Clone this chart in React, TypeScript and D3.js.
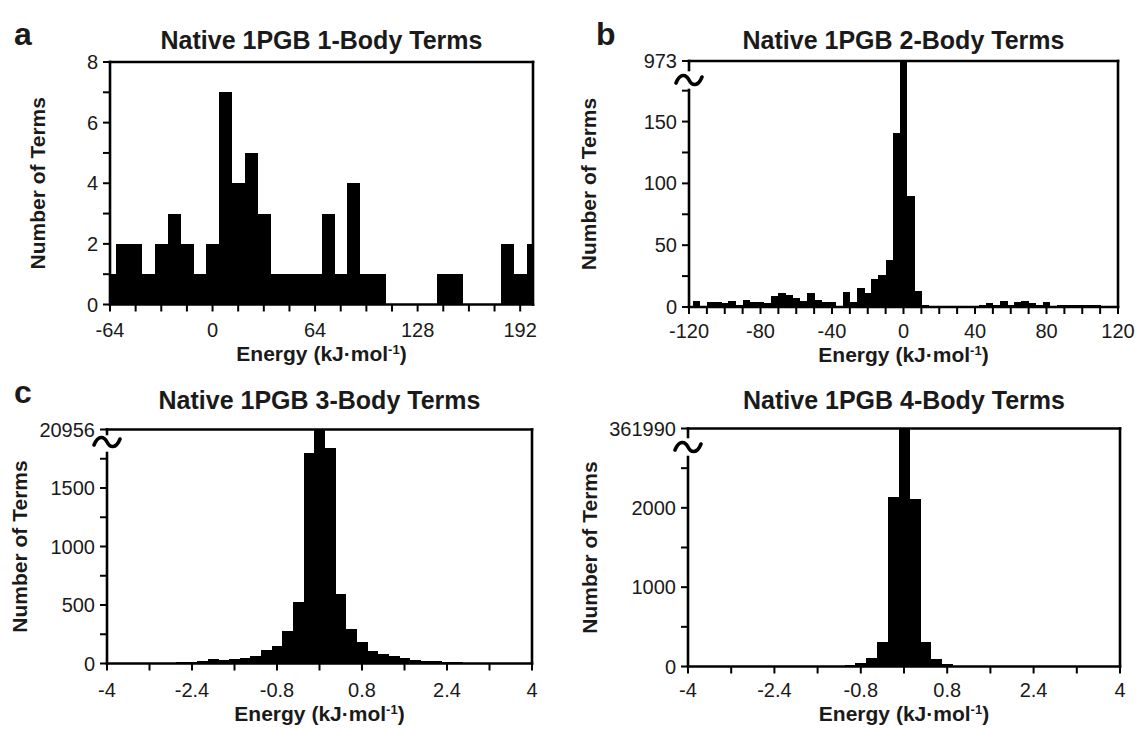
import React from 'react';
import * as d3 from 'd3';

// ---------- Panel a : 1-body terms ----------
const aBinStart = -64;
const aBinStep = 8;
const aCounts = [1, 2, 2, 1, 2, 3, 2, 1, 2, 7, 4, 5, 3, 1, 1, 1, 1, 3, 1, 4, 1, 1, 0, 0, 0, 0, 1, 1, 0, 0, 0, 2, 1, 2];
const aXLabels = [-64, 0, 64, 128, 192];
const aYLabels = [0, 2, 4, 6, 8];

// ---------- Panel b : 2-body terms ----------
const bBinStart = -120;
const bBinStep = 4;
const bCounts = [
  0, 5, 0, 4, 4, 3, 5, 2, 6, 4, 4, 3, 9, 11, 10, 7, 5, 11, 6, 4, 4, 1, 12, 4, 15, 11, 23, 26, 38, 141,
  973,
  90, 13, 2, 1, 1, 1, 0, 0, 1, 1, 2, 3, 2, 5, 2, 4, 5, 3, 2, 4, 1, 2, 2, 2, 2, 2, 2, 0, 0, 0,
];
const bXLabels = [-120, -80, -40, 0, 40, 80, 120];
const bYLabels = [0, 50, 100, 150];
const bTopLabel = '973';

// ---------- Panel c : 3-body terms ----------
const cBinStart = -4;
const cBinStep = 0.2;
const cCounts = [
  0, 0, 1, 1, 2, 3, 5, 11, 14, 20, 37, 28, 40, 43, 63, 114, 148, 279, 527, 1803,
  20956,
  1843, 590, 291, 182, 105, 85, 63, 43, 28, 23, 20, 14, 9, 6, 4, 3, 2, 2, 1, 0,
];
const cXLabels = [-4, -2.4, -0.8, 0.8, 2.4, 4];
const cYLabels = [0, 500, 1000, 1500];
const cTopLabel = '20956';

// ---------- Panel d : 4-body terms ----------
const dBinStart = -4;
const dBinStep = 0.2;
const dCounts = [
  0, 0, 0, 0, 0, 0, 0, 0, 0, 0, 0, 0, 0, 0, 3, 17, 50, 113, 314, 2142,
  361990,
  2109, 305, 100, 33, 8, 2, 0, 0, 0, 0, 0, 0, 0, 0, 0, 0, 0, 0, 0, 0,
];
const dXLabels = [-4, -2.4, -0.8, 0.8, 2.4, 4];
const dYLabels = [0, 1000, 2000];
const dTopLabel = '361990';

const FONT = '"Liberation Sans", Arial, sans-serif';
const TXT = '#1a1a1a';

type Cfg = {
  id: string;
  letter: string;
  letterX: number;
  letterY: number;
  title: string;
  titleY: number;
  left: number;
  right: number;
  top: number;
  bottom: number;
  xDomain: [number, number];
  yDomain: [number, number];
  binStart: number;
  binStep: number;
  counts: number[];
  xTickStep: number;
  xLabels: number[];
  yTickStep: number;
  yTickMax: number;
  yLabels: number[];
  topLabel?: string;
  breakY?: number;
  gapTop?: number;
  gapBottom?: number;
  yTitleX: number;
  xLabelY: number;
  xTitleY: number;
};

function fmt(v: number) {
  return String(v);
}

function Panel({ cfg }: { cfg: Cfg }) {
  const {
    id, left, right, top, bottom, xDomain, yDomain, binStart, binStep, counts,
  } = cfg;
  const x = d3.scaleLinear().domain(xDomain).range([left, right]);
  const y = d3.scaleLinear().domain(yDomain).range([bottom, top]);
  const centers = counts.map((_, i) => binStart + i * binStep);
  const xTicks = d3.range(xDomain[0], xDomain[1] + binStep * 0.01, cfg.xTickStep).filter((t) => t <= xDomain[1] + 1e-9);
  const yTicks = d3.range(0, cfg.yTickMax + 1e-9, cfg.yTickStep);
  const tickLen = 7;
  const sw = 2.6;
  const clip = `clip-${id}`;
  const hasBreak = cfg.topLabel !== undefined;
  const cx = (left + right) / 2;
  const cy = (top + bottom) / 2;

  return (
    <g>
      <defs>
        <clipPath id={clip}>
          <rect x={left} y={top} width={right - left} height={bottom - top} />
        </clipPath>
      </defs>
      {/* bars */}
      <g clipPath={`url(#${clip})`} shapeRendering="crispEdges">
        {centers.map((c, i) =>
          counts[i] > 0 ? (
            <rect
              key={i}
              x={x(c - binStep / 2)}
              width={x(c + binStep / 2) - x(c - binStep / 2) + 0.4}
              y={y(counts[i])}
              height={y(0) - y(counts[i])}
              fill="#000"
            />
          ) : null
        )}
      </g>
      {/* frame */}
      <g stroke="#000" strokeWidth={sw} fill="none" strokeLinecap="square">
        <line x1={left} x2={right} y1={top} y2={top} />
        <line x1={right} x2={right} y1={top} y2={bottom} />
        <line x1={left} x2={right} y1={bottom} y2={bottom} />
        {hasBreak ? (
          <>
            <line x1={left} x2={left} y1={top} y2={cfg.gapTop} />
            <line x1={left} x2={left} y1={cfg.gapBottom} y2={bottom} />
          </>
        ) : (
          <line x1={left} x2={left} y1={top} y2={bottom} />
        )}
      </g>
      {hasBreak && (
        <path
          d={`M${left - 13},${cfg.breakY! + 3} C${left - 9},${cfg.breakY! - 7} ${left - 3},${cfg.breakY! - 6} ${left},${cfg.breakY!} S${left + 9},${cfg.breakY! + 7} ${left + 13},${cfg.breakY! - 3}`}
          stroke="#000"
          strokeWidth={3.6}
          fill="none"
          strokeLinecap="round"
        />
      )}
      {/* ticks */}
      <g stroke="#000" strokeWidth={2}>
        {xTicks.map((t, i) => (
          <line key={i} x1={x(t)} x2={x(t)} y1={bottom} y2={bottom + tickLen} />
        ))}
        {yTicks.map((t, i) => (
          <line key={i} x1={left - tickLen} x2={left} y1={y(t)} y2={y(t)} />
        ))}
        {hasBreak && <line x1={left - tickLen} x2={left} y1={top} y2={top} />}
      </g>
      {/* x labels */}
      <g fontFamily={FONT} fontSize={20} fill={TXT} textAnchor="middle">
        {cfg.xLabels.map((t, i) => (
          <text key={i} x={x(t)} y={cfg.xLabelY}>
            {fmt(t)}
          </text>
        ))}
      </g>
      {/* y labels */}
      <g fontFamily={FONT} fontSize={20} fill={TXT} textAnchor="end">
        {cfg.yLabels.map((t, i) => (
          <text key={i} x={left - 12} y={y(t) + 7}>
            {fmt(t)}
          </text>
        ))}
        {hasBreak && (
          <text x={left - 12} y={top + 7}>
            {cfg.topLabel}
          </text>
        )}
      </g>
      {/* titles */}
      <text x={cx} y={cfg.titleY} fontFamily={FONT} fontWeight="bold" fontSize={25} textAnchor="middle" fill={TXT}>
        {cfg.title}
      </text>
      {cfg.letter && (
        <text x={cfg.letterX} y={cfg.letterY} fontFamily={FONT} fontWeight="bold" fontSize={32} fill={TXT}>
          {cfg.letter}
        </text>
      )}
      <text
        transform={`translate(${cfg.yTitleX},${cy}) rotate(-90)`}
        fontFamily={FONT}
        fontWeight="bold"
        fontSize={21}
        textAnchor="middle"
        fill={TXT}
      >
        Number of Terms
      </text>
      <text x={cx} y={cfg.xTitleY} fontFamily={FONT} fontWeight="bold" fontSize={21} textAnchor="middle" fill={TXT}>
        Energy (kJ·mol
        <tspan fontSize={13} dy={-7}>-1</tspan>
        <tspan dy={7}>)</tspan>
      </text>
    </g>
  );
}

const panels: Cfg[] = [
  {
    id: 'a', letter: 'a', letterX: 14, letterY: 45, title: 'Native 1PGB 1-Body Terms', titleY: 49,
    left: 110, right: 533, top: 62, bottom: 304.5,
    xDomain: [-64, 200], yDomain: [0, 8], binStart: aBinStart, binStep: aBinStep, counts: aCounts,
    xTickStep: 16, xLabels: aXLabels, yTickStep: 1, yTickMax: 8, yLabels: aYLabels,
    yTitleX: 45, xLabelY: 337, xTitleY: 361,
  },
  {
    id: 'b', letter: 'b', letterX: 596, letterY: 45, title: 'Native 1PGB 2-Body Terms', titleY: 49,
    left: 689, right: 1118, top: 61, bottom: 307,
    xDomain: [-120, 120], yDomain: [0, 199], binStart: bBinStart, binStep: bBinStep, counts: bCounts,
    xTickStep: 10, xLabels: bXLabels, yTickStep: 25, yTickMax: 175, yLabels: bYLabels,
    topLabel: bTopLabel, breakY: 80, gapTop: 70, gapBottom: 90,
    yTitleX: 596, xLabelY: 338, xTitleY: 362,
  },
  {
    id: 'c', letter: 'c', letterX: 14, letterY: 403, title: 'Native 1PGB 3-Body Terms', titleY: 409,
    left: 107, right: 532, top: 429.5, bottom: 663.5,
    xDomain: [-4, 4], yDomain: [0, 2000], binStart: cBinStart, binStep: cBinStep, counts: cCounts,
    xTickStep: 0.8, xLabels: cXLabels, yTickStep: 250, yTickMax: 1750, yLabels: cYLabels,
    topLabel: cTopLabel, breakY: 442, gapTop: 434, gapBottom: 453,
    yTitleX: 27, xLabelY: 697, xTitleY: 721,
  },
  {
    id: 'd', letter: '', letterX: 0, letterY: 0, title: 'Native 1PGB 4-Body Terms', titleY: 409,
    left: 688, right: 1120, top: 428.5, bottom: 666.5,
    xDomain: [-4, 4], yDomain: [0, 3000], binStart: dBinStart, binStep: dBinStep, counts: dCounts,
    xTickStep: 0.8, xLabels: dXLabels, yTickStep: 500, yTickMax: 2500, yLabels: dYLabels,
    topLabel: dTopLabel, breakY: 447, gapTop: 437, gapBottom: 457,
    yTitleX: 597, xLabelY: 697, xTitleY: 721,
  },
];

export default function App() {
  return (
    <svg
      width={1138}
      height={729}
      viewBox="0 0 1138 729"
      style={{ position: 'absolute', left: 0, top: 0, background: '#fff' }}
    >
      <rect width={1138} height={729} fill="#fff" />
      {panels.map((p) => (
        <Panel key={p.id} cfg={p} />
      ))}
    </svg>
  );
}
